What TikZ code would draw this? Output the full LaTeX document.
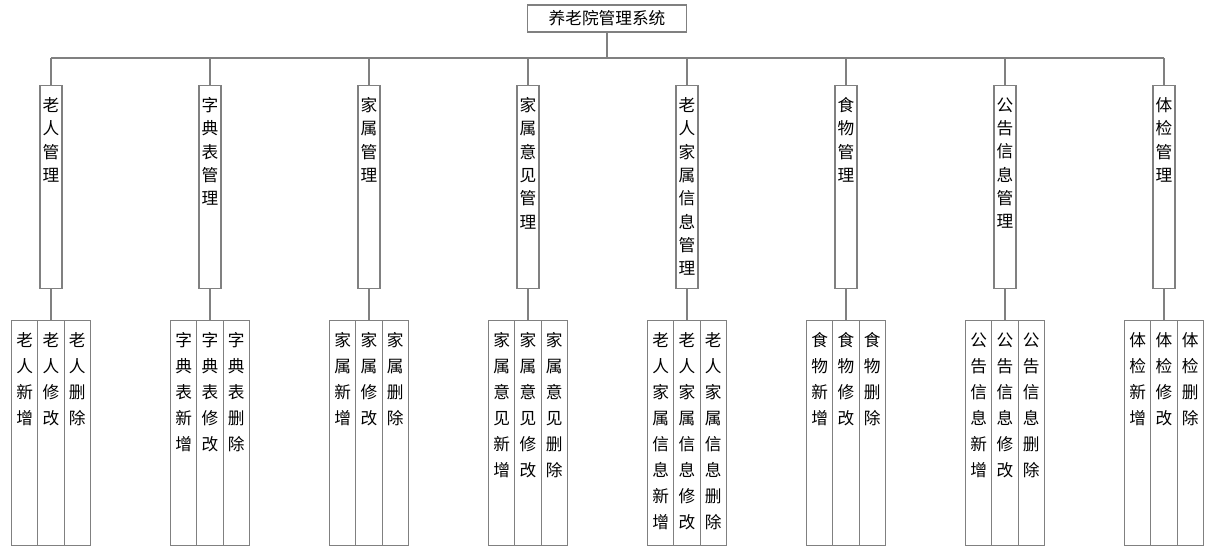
\documentclass[tikz,border=0pt]{standalone}
\usepackage{fontspec}
\setmainfont{Noto Sans CJK SC}
\usetikzlibrary{positioning}
\definecolor{linegray}{RGB}{128,128,128}

\begin{document}
\begin{tikzpicture}[x=0.75pt, y=-0.75pt, line width=0.8pt,
    sysbox/.style={draw=linegray, minimum width=119pt, minimum height=20.25pt,
                   inner sep=0pt, font=\fontsize{12.5}{15}\selectfont},
    modbox/.style={draw=linegray, minimum width=16.5pt, minimum height=152.25pt,
                   inner sep=0pt, anchor=north},
    funbox/.style={draw=linegray, minimum width=19.7pt, minimum height=168.75pt,
                   inner sep=0pt, anchor=north},
    modtxt/.style={inner sep=0pt, align=center, font=\fontsize{12.5}{17.5}\selectfont},
    funtxt/.style={inner sep=0pt, align=center, font=\fontsize{12.5}{19.5}\selectfont},
    link/.style={draw=linegray}]
  \useasboundingbox (0,0) rectangle (1206,560);
  \def\dx{159}   % spacing of the modules
  \def\cw{26.3}  % width of one function column

  % ---- Top: system ----
  \node[sysbox] (root) at (607,18.5) {养老院管理系统};
  \coordinate (bus) at (607,58);
  \draw[link] (root.south) -- (bus);

  % ---- Modules and their functions ----
  \foreach \i/\p in {1/{老\\人}, 2/{字\\典\\表}, 3/{家\\属}, 4/{家\\属\\意\\见},
                     5/{老\\人\\家\\属\\信\\息}, 6/{食\\物}, 7/{公\\告\\信\\息}, 8/{体\\检}} {
    \pgfmathsetmacro{\x}{51+(\i-1)*\dx}
    \node[modbox] (m\i) at (\x,85) {};
    \node[modtxt, below=9pt of m\i.north] (t\i) {\p\\管\\理};
    \draw[link] (bus -| m\i.north) -- (m\i.north);
    % three functions: add / edit / delete
    \node[funbox] (s\i b) at (\x,320) {};
    \node[funbox] (s\i a) at (\x-\cw,320) {};
    \node[funbox] (s\i c) at (\x+\cw,320) {};
    \node[funtxt, below=9pt of s\i a.north] {\p\\新\\增};
    \node[funtxt, below=9pt of s\i b.north] {\p\\修\\改};
    \node[funtxt, below=9pt of s\i c.north] {\p\\删\\除};
    \draw[link] (m\i.south) -- (s\i b.north);
  }
  \draw[link] (bus -| m1.north) -- (bus -| m8.north);
\end{tikzpicture}
\end{document}
